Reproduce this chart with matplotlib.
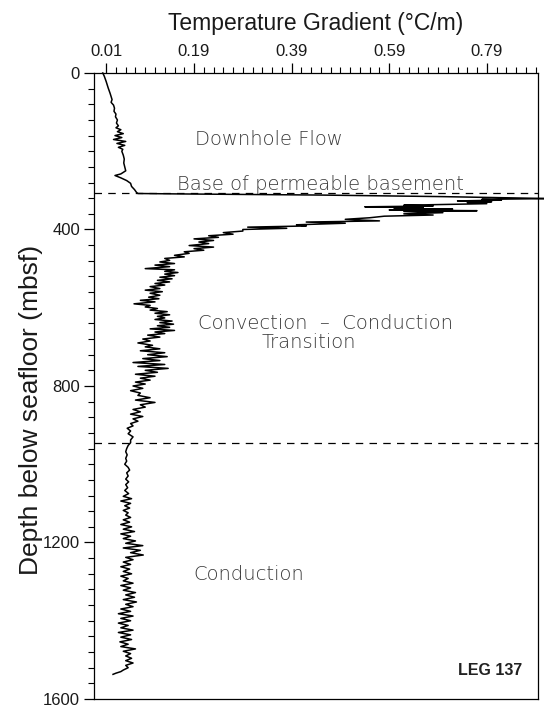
import matplotlib.pyplot as plt
from matplotlib.ticker import MultipleLocator, FixedLocator

# Temperature gradient log (depth in mbsf, gradient in degC/m)
depth_upper = [0, 8, 15, 22, 30, 38, 45, 52, 60, 68, 75, 82, 90, 98, 105, 112, 120, 128,
               135, 140, 145, 150, 155, 160, 165, 170, 175, 180, 185, 190, 195, 200, 210,
               220, 230, 240, 250, 258, 262, 268, 275, 282, 290, 298, 305, 308]
grad_upper = [0.003, 0.006, 0.008, 0.010, 0.012, 0.014, 0.016, 0.018, 0.020, 0.022, 0.020,
              0.025, 0.027, 0.026, 0.030, 0.029, 0.033, 0.031, 0.035, 0.030, 0.040, 0.033,
              0.045, 0.028, 0.042, 0.025, 0.050, 0.032, 0.048, 0.035, 0.044, 0.042, 0.045,
              0.047, 0.046, 0.048, 0.050, 0.040, 0.028, 0.040, 0.052, 0.060, 0.062, 0.068,
              0.072, 0.075]

depth_peak = [309, 312, 316, 321]
grad_peak = [0.15, 0.45, 0.70, 0.92]

depth_transition = [323, 325, 327, 329, 331, 334, 336, 338, 340, 342, 344, 346, 348, 350,
                    352, 354, 357, 360, 363, 366, 370, 374, 378, 381, 384, 388, 391, 394,
                    397, 400, 404, 408, 412, 416, 420, 424, 428, 432, 436, 441, 445, 449,
                    453, 457, 461, 466, 470, 474, 479, 483, 487, 491, 495, 500, 503, 507,
                    510, 514, 518, 522, 526, 530, 534, 538, 542, 546, 551, 555, 559, 563,
                    568, 573, 577, 581, 585, 590, 594, 598, 602, 606, 610, 614, 618, 622,
                    626, 630, 634, 638, 642, 646, 650, 654, 658, 662, 666, 670, 675, 680,
                    685, 690, 696, 700, 705, 710, 715, 720, 725, 730, 735, 740, 745, 750,
                    755, 760, 765, 770, 775, 780, 785, 790, 795, 800, 806, 812, 818, 824,
                    830, 836, 842, 848, 854, 860, 866, 872, 878, 884, 890, 896, 902, 908,
                    915, 922, 930, 938, 945]
grad_transition = [0.78, 0.82, 0.73, 0.80, 0.75, 0.79, 0.70, 0.62, 0.68, 0.54, 0.66, 0.60,
                   0.72, 0.59, 0.77, 0.62, 0.70, 0.62, 0.68, 0.58, 0.55, 0.50, 0.57, 0.42,
                   0.50, 0.40, 0.42, 0.30, 0.38, 0.29, 0.29, 0.25, 0.27, 0.22, 0.24, 0.19,
                   0.23, 0.20, 0.22, 0.18, 0.23, 0.19, 0.21, 0.17, 0.18, 0.15, 0.17, 0.13,
                   0.14, 0.12, 0.15, 0.11, 0.14, 0.09, 0.15, 0.13, 0.157, 0.13, 0.15, 0.12,
                   0.145, 0.115, 0.14, 0.11, 0.13, 0.10, 0.12, 0.09, 0.125, 0.10, 0.12,
                   0.097, 0.118, 0.08, 0.11, 0.067, 0.10, 0.09, 0.115, 0.10, 0.135, 0.11,
                   0.14, 0.115, 0.13, 0.11, 0.145, 0.12, 0.148, 0.115, 0.14, 0.10, 0.15,
                   0.11, 0.13, 0.095, 0.12, 0.085, 0.10, 0.075, 0.105, 0.09, 0.12, 0.08,
                   0.13, 0.095, 0.135, 0.085, 0.12, 0.065, 0.13, 0.075, 0.137, 0.09, 0.115,
                   0.07, 0.11, 0.08, 0.10, 0.07, 0.09, 0.065, 0.085, 0.06, 0.08, 0.075,
                   0.10, 0.07, 0.11, 0.08, 0.09, 0.065, 0.08, 0.06, 0.085, 0.065, 0.075,
                   0.06, 0.065, 0.053, 0.06, 0.055, 0.065, 0.06, 0.06]

depth_lower = [952, 960, 968, 976, 985, 992, 1000, 1008, 1015, 1022, 1030, 1038, 1045, 1052,
               1060, 1067, 1075, 1082, 1088, 1094, 1100, 1106, 1112, 1118, 1124, 1130, 1136,
               1142, 1148, 1154, 1160, 1166, 1172, 1178, 1184, 1190, 1196, 1202, 1208, 1214,
               1220, 1226, 1232, 1238, 1244, 1250, 1256, 1262, 1268, 1274, 1280, 1286, 1292,
               1298, 1304, 1310, 1316, 1322, 1328, 1334, 1340, 1346, 1352, 1358, 1364, 1370,
               1376, 1382, 1388, 1394, 1400, 1406, 1412, 1418, 1424, 1430, 1436, 1442, 1448,
               1454, 1460, 1466, 1472, 1478, 1484, 1490, 1496, 1502, 1508, 1514, 1520, 1526,
               1530, 1534, 1537]
grad_lower = [0.055, 0.052, 0.05, 0.053, 0.05, 0.052, 0.048, 0.055, 0.058, 0.052, 0.055,
              0.05, 0.056, 0.05, 0.054, 0.048, 0.056, 0.045, 0.062, 0.04, 0.06, 0.048, 0.058,
              0.045, 0.055, 0.05, 0.06, 0.045, 0.058, 0.04, 0.062, 0.045, 0.068, 0.04, 0.06,
              0.045, 0.07, 0.05, 0.085, 0.045, 0.08, 0.06, 0.086, 0.05, 0.065, 0.045, 0.06,
              0.04, 0.058, 0.045, 0.062, 0.04, 0.055, 0.045, 0.065, 0.04, 0.06, 0.045, 0.07,
              0.05, 0.068, 0.045, 0.072, 0.05, 0.065, 0.04, 0.06, 0.035, 0.065, 0.04, 0.06,
              0.035, 0.055, 0.04, 0.065, 0.035, 0.06, 0.04, 0.062, 0.038, 0.055, 0.04, 0.07,
              0.045, 0.06, 0.05, 0.062, 0.05, 0.065, 0.05, 0.055, 0.045, 0.04, 0.03, 0.024]

depth = depth_upper + depth_peak + depth_transition + depth_lower
gradient = grad_upper + grad_peak + grad_transition + grad_lower

boundary_depths = [308, 945]
x_ticks = [0.01, 0.19, 0.39, 0.59, 0.79]
y_ticks = [0, 400, 800, 1200, 1600]

label_font = ['Liberation Sans', 'DejaVu Sans']

fig = plt.figure(figsize=(5.44, 7.10), dpi=100)
ax = fig.add_axes([0.1728, 0.0155, 0.8162, 0.8817])

ax.plot(gradient, depth, color='black', linewidth=1.1, clip_on=False, zorder=3)
for d in boundary_depths:
    ax.axhline(d, color='black', linewidth=0.9, linestyle=(0, (6, 5)))

ax.set_xlim(-0.015, 0.895)
ax.set_ylim(1600, 0)

ax.xaxis.tick_top()
ax.xaxis.set_label_position('top')
ax.xaxis.set_major_locator(FixedLocator(x_ticks))
ax.set_xticklabels([f'{v:.2f}' for v in x_ticks])
ax.xaxis.set_minor_locator(FixedLocator([0.01 + 0.02 * k for k in range(45)]))
ax.yaxis.set_major_locator(FixedLocator(y_ticks))
ax.yaxis.set_minor_locator(MultipleLocator(40))

ax.tick_params(axis='both', which='major', length=7, width=0.9, labelsize=12, pad=3)
ax.tick_params(axis='both', which='minor', length=4, width=0.8)
for lab in ax.get_xticklabels() + ax.get_yticklabels():
    lab.set_family(label_font)
    lab.set_color('#1a1a1a')
for sp in ax.spines.values():
    sp.set_linewidth(0.9)

ax.set_xlabel('Temperature Gradient (°C/m)', fontsize=16.5, family=label_font,
              color='#1a1a1a', labelpad=10)
ax.set_ylabel('Depth below seafloor (mbsf)', fontsize=19, family=label_font,
              color='#1a1a1a')
ax.yaxis.set_label_coords(-0.115, 0.461)

zone_style = dict(fontsize=14, color='#3a3a3a', ha='center', va='center',
                  family='DejaVu Sans', fontweight='light')
ax.text(0.343, 171, 'Downhole Flow', **zone_style)
ax.text(0.45, 285, 'Base of permeable basement', **zone_style)
ax.text(0.459, 640, 'Convection  –  Conduction', **zone_style)
ax.text(0.426, 690, 'Transition', **zone_style)
ax.text(0.302, 1282, 'Conduction', **zone_style)
ax.text(0.796, 1526, 'LEG 137', fontsize=11.5, fontweight='bold', ha='center',
        va='center', family=label_font, color='#222222')

fig.savefig('out.png', dpi=100)
